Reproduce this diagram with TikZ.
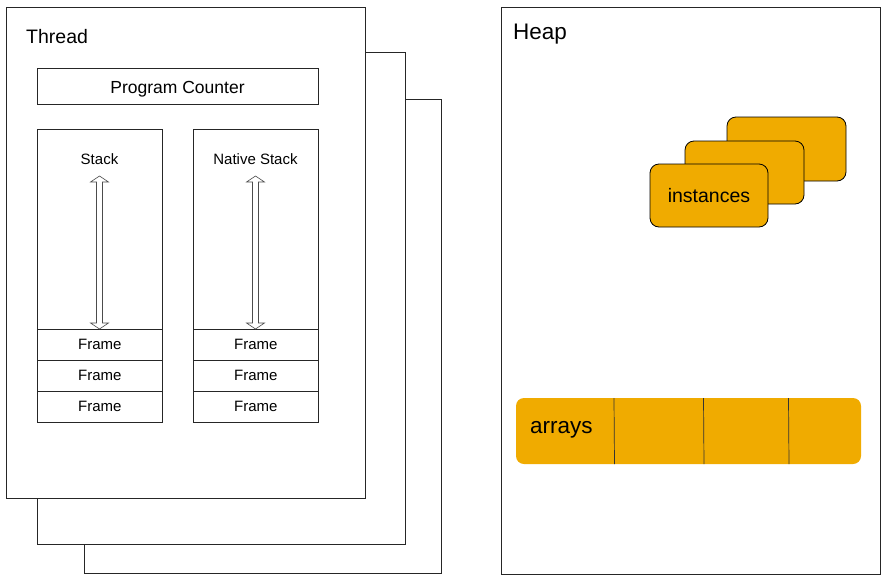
\documentclass[tikz,border=0pt]{standalone}
\usepackage{fontspec}
\setmainfont{Liberation Sans}
\definecolor{orng}{RGB}{240,171,0}
\begin{document}
\begin{tikzpicture}[x=1pt,y=-1pt,
  frame/.style={draw=black!85,line width=0.8pt,fill=white},
  inst/.style={draw=black,line width=0.8pt,fill=orng,rounded corners=9pt},
  lbl/.style={inner sep=0pt,anchor=base west},
  small/.style={font=\fontsize{15}{18}\selectfont},
  dbl/.style={draw=black!70,line width=0.6pt,fill=white}]
\useasboundingbox (0,0) rectangle (887,579);
% thread stack of pages
\draw[frame] (84,99) rectangle (441,573);
\draw[frame] (37,52) rectangle (405,544);
\draw[frame] (6,7) rectangle (365,498);
\node[lbl,font=\fontsize{19.5}{22}\selectfont] (thread) at (26,43) {Thread};
% program counter
\node[frame,minimum width=281pt,minimum height=36pt,inner sep=0pt] (pc) at (177.5,86) {};
\node[lbl,anchor=base,font=\fontsize{17.5}{20}\selectfont] (pct) at (177.5,93) {Program Counter};
% stack
\draw[frame] (37,129) rectangle (162,421);
\draw[frame] (193,129) rectangle (318,421);
\foreach \x/\n in {37/s,193/n}{
  \node[frame,small,minimum width=125pt,minimum height=31pt,inner sep=0pt,anchor=north west] (\n f1) at (\x,329) {Frame};
  \node[frame,small,minimum width=125pt,minimum height=31pt,inner sep=0pt,anchor=north west] (\n f2) at (\x,360) {Frame};
  \node[frame,small,minimum width=125pt,minimum height=31pt,inner sep=0pt,anchor=north west] (\n f3) at (\x,391) {Frame};
}
\node[small] (stk) at (99.5,159) {Stack};
\node[small] (nstk) at (255.5,159) {Native Stack};
\foreach \cx in {99.5,255.5}{
  \draw[dbl] (\cx,176) -- (\cx+9,182) -- (\cx+3,182) -- (\cx+3,323) -- (\cx+9,323) -- (\cx,329)
    -- (\cx-9,323) -- (\cx-3,323) -- (\cx-3,182) -- (\cx-9,182) -- cycle;
}
% heap
\draw[frame] (501,7) rectangle (880,574);
\node[lbl,font=\fontsize{22.5}{26}\selectfont] (heap) at (513,39) {Heap};
\draw[inst] (727,117) rectangle (846,181);
\draw[inst] (685,141) rectangle (804,204);
\node[inst,minimum width=118pt,minimum height=63pt,inner sep=0pt,font=\fontsize{19.5}{23}\selectfont] (inst) at (709,195.5) {instances};
% arrays
\fill[orng,rounded corners=8pt] (516,398) rectangle (861,464);
\foreach \x in {614,703.5,788.5}{ \draw[black!80,line width=0.7pt] (\x,398) -- (\x+0.5,464); }
\node[lbl,font=\fontsize{22.5}{26}\selectfont] (arr) at (530,433) {arrays};
\end{tikzpicture}
\end{document}
